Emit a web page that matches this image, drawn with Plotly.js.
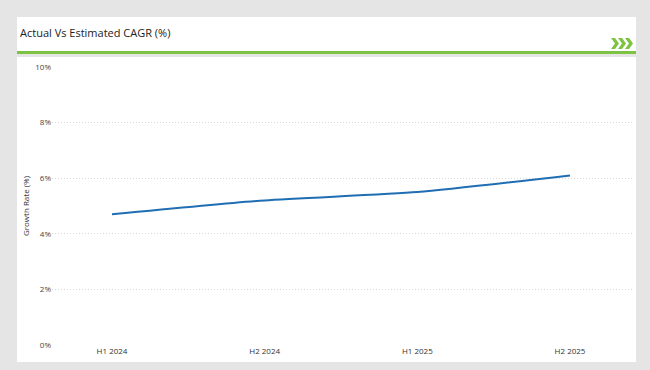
<!DOCTYPE html>
<html><head><meta charset="utf-8">
<script src="https://cdn.plot.ly/plotly-3.0.1.min.js"></script>
<style>
html,body{margin:0;padding:0;background:#e5e5e5;width:650px;height:370px;overflow:hidden;}
#bg1{position:absolute;left:17px;top:17px;width:619px;height:34px;background:#fff;}
#green{position:absolute;left:17px;top:51px;width:619px;height:3px;background:#7dc242;}
#bg2{position:absolute;left:17px;top:57px;width:619px;height:305px;background:#fff;}
#chev{position:absolute;left:611px;top:38px;}
#chart{position:absolute;left:0;top:0;width:650px;height:370px;}
</style></head>
<body>
<div id="bg1"></div><div id="green"></div><div id="bg2"></div>
<svg id="chev" width="22" height="11" viewBox="0 0 22 11">
<path d="M0 0 L4 0 L8 5.5 L4 11 L0 11 L4 5.5 Z" fill="#7dc242"/>
<path d="M7 0 L11 0 L15 5.5 L11 11 L7 11 L11 5.5 Z" fill="#7dc242"/>
<path d="M14 0 L18 0 L22 5.5 L18 11 L14 11 L18 5.5 Z" fill="#7dc242"/>
</svg>
<div id="chart"></div>
<script>
const categories = ["H1 2024", "H2 2024", "H1 2025", "H2 2025"];
const growthRate = [4.7, 5.2, 5.5, 6.1];
const yTickVals = [0, 2, 4, 6, 8, 10];
const yTickText = ["0%", "2%", "4%", "6%", "8%", "10%"];

const trace = {
  x: categories,
  y: growthRate,
  type: "scatter",
  mode: "lines",
  line: {color: "#1f6eb3", width: 2, shape: "spline", smoothing: 0.6},
  hoverinfo: "skip"
};
const layout = {
  width: 650, height: 370,
  paper_bgcolor: "rgba(0,0,0,0)",
  plot_bgcolor: "rgba(0,0,0,0)",
  margin: {l: 52, r: 18, t: 67, b: 25},
  showlegend: false,
  font: {family: "Open Sans, sans-serif", color: "#444"},
  title: {
    text: "Actual Vs Estimated CAGR (%)",
    font: {family: "Open Sans, sans-serif", size: 11, color: "#222"},
    x: 20/650, xanchor: "left", xref: "container",
    y: 1 - 33/370, yanchor: "middle", yref: "container"
  },
  xaxis: {
    type: "category",
    range: [-0.393, 3.406],
    showgrid: false, zeroline: false, showline: false,
    ticks: "", tickfont: {size: 8, color: "#333"}
  },
  yaxis: {
    range: [0, 10],
    tickvals: yTickVals, ticktext: yTickText,
    showgrid: true, gridcolor: "#d8d8d8", griddash: "1px,2px", gridwidth: 1,
    zeroline: false, showline: false, ticks: "",
    tickfont: {size: 8, color: "#444"},
    title: {text: "Growth Rate (%)", font: {size: 8, color: "#333"}, standoff: 4}
  }
};
Plotly.newPlot("chart", [trace], layout, {staticPlot: true, displayModeBar: false});
</script>
</body></html>
